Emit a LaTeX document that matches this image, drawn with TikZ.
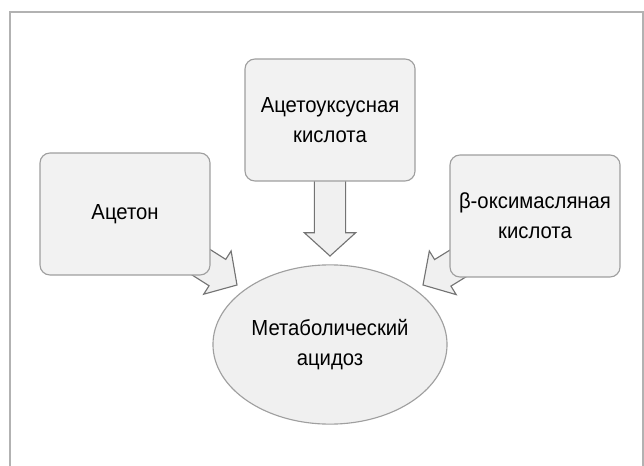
\documentclass[tikz,border=0pt]{standalone}
\usepackage{fontspec}
\setmainfont[FakeStretch=0.93]{Liberation Sans}
\usetikzlibrary{calc,backgrounds,shapes.geometric}

\begin{document}
\begin{tikzpicture}[x=0.025cm,y=-0.025cm,
font=\fontsize{15.5pt}{21.5pt}\selectfont,
kasten/.style={draw=gray!75,fill=gray!10,line width=0.8pt,rounded corners=0.25cm,
  minimum width=4.25cm,minimum height=3.05cm,align=center},
oval/.style={ellipse,draw=gray!75,fill=gray!12,line width=0.8pt,inner sep=0pt,
  minimum width=5.85cm,minimum height=3.98cm,align=center},
pfeilstil/.style={draw=gray!90!black,fill=gray!12,line width=0.8pt,line join=miter}]
\useasboundingbox (0,0) rectangle (644,466);
\def\schaft{0.39cm}
\def\kopf{0.64cm}
\def\kopflang{0.58cm}
\def\pfeil#1#2{
\coordinate (basis) at ($(#2)!\kopflang!(#1)$);
\draw[pfeilstil] ($(#1)!\schaft!90:(#2)$) -- ($(basis)!\schaft!90:(#2)$)
  -- ($(basis)!\kopf!90:(#2)$) -- (#2) -- ($(basis)!\kopf!-90:(#2)$)
  -- ($(basis)!\schaft!-90:(#2)$) -- ($(#1)!\schaft!-90:(#2)$) -- cycle;
}
% Rahmen
\draw[gray!60,line width=1.1pt] (10,466) -- (10,12) -- (643,12) -- (643,466);

\node[kasten] (azeton) at (125,214) {Ацетон};
\node[kasten] (essig) at (330,120) {Ацетоуксусная\\кислота};
\node[kasten] (oxy) at (535,216) {β-оксимасляная\\кислота};
\node[oval] (azidose) at (330,344.5) {Метаболический\\ацидоз};

\coordinate (spitze1) at (237,285);
\coordinate (spitze2) at (330,256);
\coordinate (spitze3) at (423,285);

\begin{pgfonlayer}{background}
\pfeil{azeton}{spitze1}
\pfeil{essig}{spitze2}
\pfeil{oxy}{spitze3}
\end{pgfonlayer}
\end{tikzpicture}
\end{document}
